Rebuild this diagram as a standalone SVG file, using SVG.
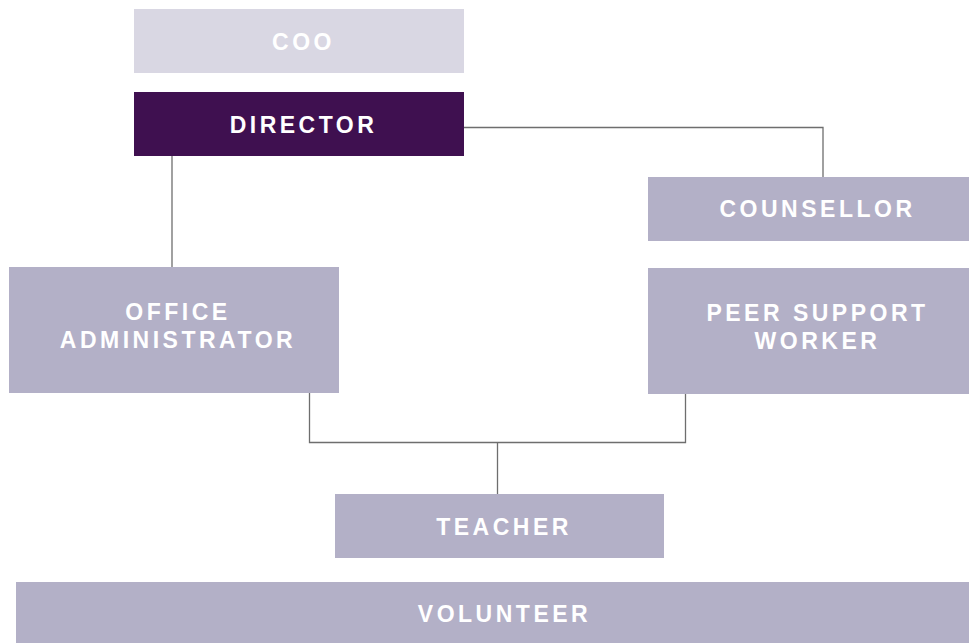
<svg xmlns="http://www.w3.org/2000/svg" width="969" height="643" viewBox="0 0 969 643">
<style>
.box{fill:#b3b0c7}
.t{font-family:"Liberation Sans",Arial,sans-serif;font-weight:700;font-size:23px;letter-spacing:3.5px;fill:#ffffff;text-anchor:middle}
.c{fill:none;stroke:#6e6e6e;stroke-width:1.3}
</style>
<rect width="969" height="643" fill="#ffffff"/>
<g id="connectors">
<path class="c" d="M464 127.5H823V177"/>
<path class="c" d="M172 156V267"/>
<path class="c" d="M309.5 393V442.5H685.5V394"/>
<path class="c" d="M497.5 442.5V494"/>
</g>
<g id="coo"><rect x="134" y="9" width="330" height="64" fill="#d9d7e3"/><text class="t" x="303.5" y="50">COO</text></g>
<g id="director"><rect x="134" y="92" width="330" height="64" fill="#3f1050"/><text class="t" x="303.5" y="133">DIRECTOR</text></g>
<g id="counsellor"><rect class="box" x="648" y="177" width="321" height="64"/><text class="t" x="817.5" y="217">COUNSELLOR</text></g>
<g id="office-administrator"><rect class="box" x="9" y="267" width="330" height="126"/><text class="t" x="178" y="320">OFFICE</text><text class="t" x="178" y="348">ADMINISTRATOR</text></g>
<g id="peer-support-worker"><rect class="box" x="648" y="268" width="321" height="126"/><text class="t" x="817.5" y="321">PEER SUPPORT</text><text class="t" x="817.5" y="349">WORKER</text></g>
<g id="teacher"><rect class="box" x="335" y="494" width="329" height="64"/><text class="t" x="504" y="535">TEACHER</text></g>
<g id="volunteer"><rect class="box" x="16" y="582" width="953" height="61"/><text class="t" x="504.5" y="622">VOLUNTEER</text></g>
</svg>
